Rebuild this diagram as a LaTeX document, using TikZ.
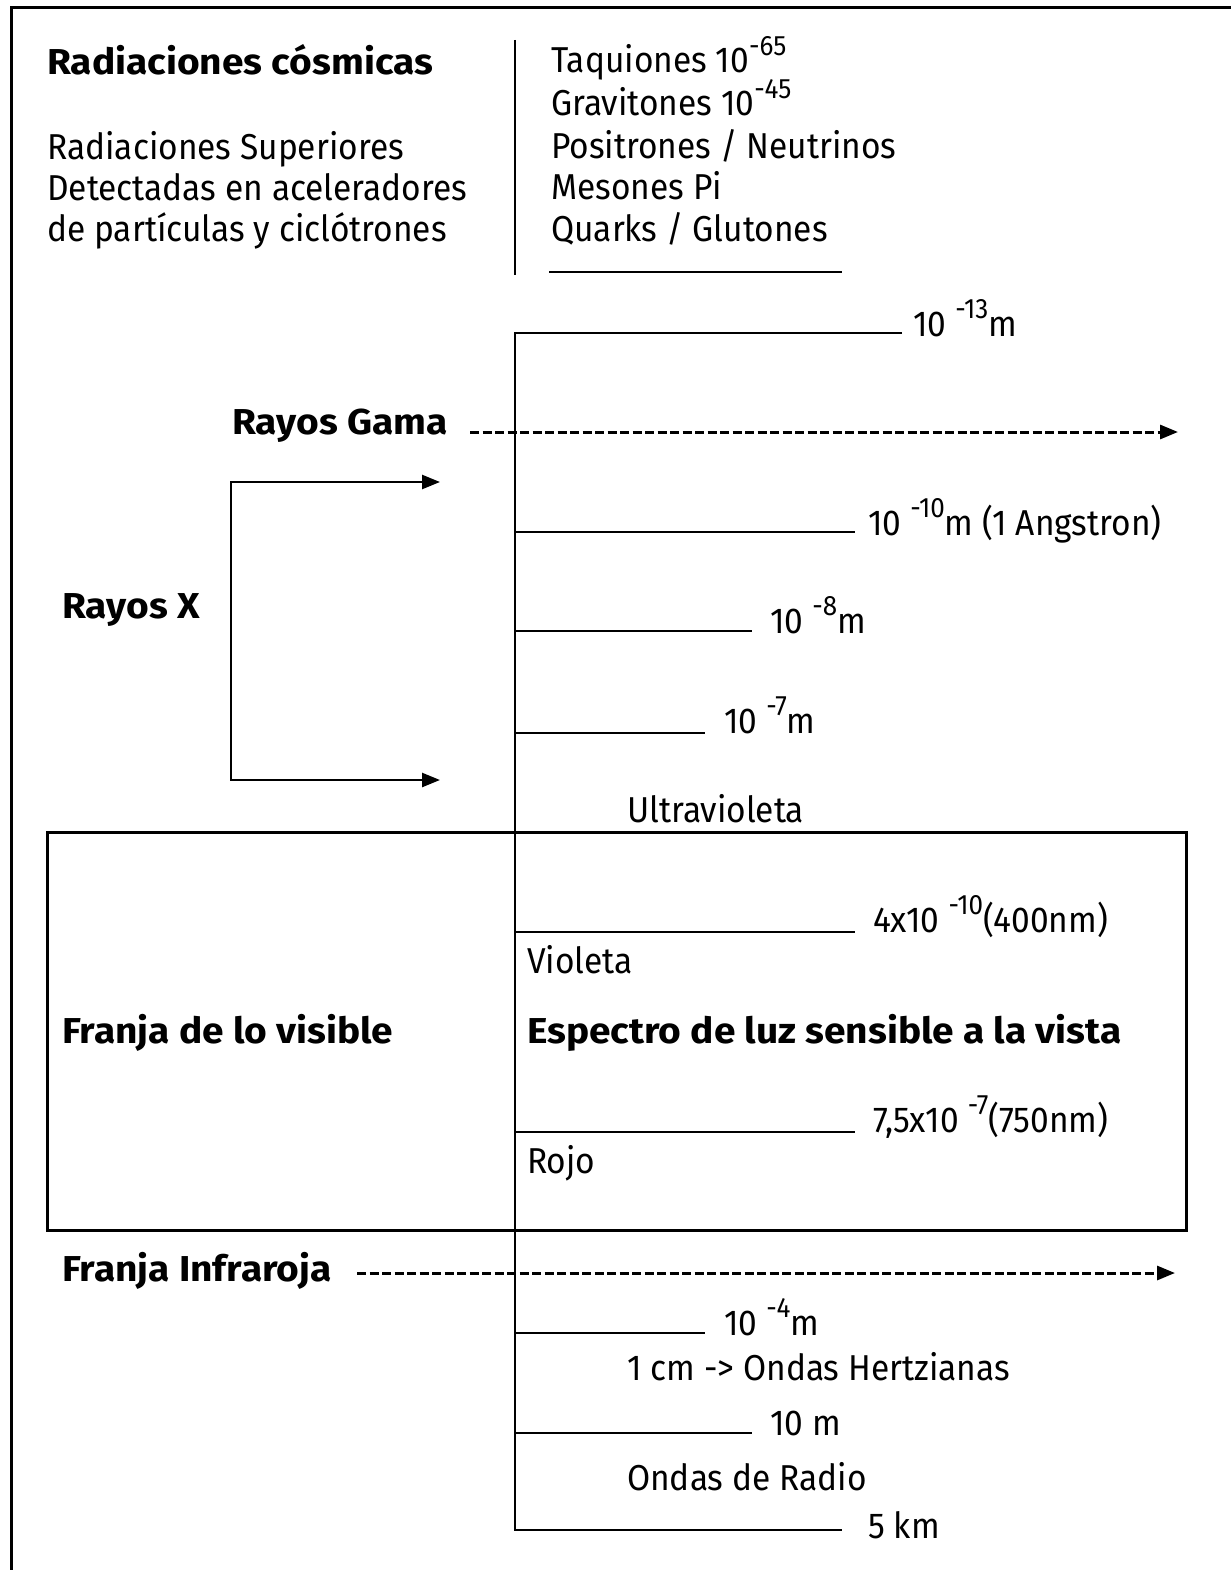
\documentclass[tikz,border=0pt]{standalone}
\usepackage{fontspec}
\setmainfont[FakeStretch=0.93]{Fira Sans}
\newfontfamily\boldfam[FakeStretch=1.08]{Fira Sans}
\usetikzlibrary{arrows.meta}
\newcommand\expo[1]{\raisebox{0.48em}{\fontsize{28}{28}\selectfont #1}}
\newcommand\gapx{\hspace{9pt}}
\begin{document}
\begin{tikzpicture}[x=1pt,y=-1pt,
  txt/.style={anchor=base west, inner sep=0pt, font=\fontsize{36}{42}\selectfont},
  btxt/.style={anchor=base west, inner sep=0pt, font=\fontsize{36}{42}\selectfont\boldfam\bfseries},
  rule/.style={line width=2.5pt},
  frame/.style={line width=3pt},
  dashline/.style={line width=3pt, dash pattern=on 9pt off 3.5pt, -{Triangle[length=18pt,width=14pt]}},
  arr/.style={line width=2.5pt, -{Triangle[length=18pt,width=14pt]}},
]
\useasboundingbox (0,0) rectangle (1231,1570);
% outer frame (open at right and bottom)
\coordinate (fbl) at (11,1570);
\coordinate (ftl) at (11,8);
\coordinate (ftr) at (1231,8);
\draw[frame] (fbl) -- (ftl) -- (ftr);

% top section
\node[btxt] (rc) at (47,75) {Radiaciones cósmicas};
\node[txt] (rs1) at (47,160) {Radiaciones Superiores};
\node[txt] (rs2) at (47,201) {Detectadas en aceleradores};
\node[txt] (rs3) at (47,242) {de partículas y ciclótrones};
\coordinate (sept) at (515,40);
\coordinate (sepb) at (515,275);
\draw[rule] (sept) -- (sepb);
\node[txt] (p1) at (551,73) {Taquiones 10\expo{-65}};
\node[txt] (p2) at (551,116) {Gravitones 10\expo{-45}};
\node[txt] (p3) at (551,159) {Positrones / Neutrinos};
\node[txt] (p4) at (551,200) {Mesones Pi};
\node[txt] (p5) at (551,241) {Quarks / Glutones};
\coordinate (ul1) at (549,272);
\coordinate (ul2) at (842,272);
\draw[rule] (ul1) -- (ul2);

% main axis and ticks
\foreach \n/\y/\xe in {a/333/902, b/532/855, c/631/752, d/733/705, e/932/855, f/1132/855, g/1333/705, h/1433/752, i/1530/842}{
  \coordinate (s\n) at (515,\y);
  \coordinate (e\n) at (\xe,\y);
}
\draw[rule] (ea) -- (sa) -- (si) -- (ei);
\foreach \n in {b,c,d,e,f,g,h}{\draw[rule] (s\n) -- (e\n);}

\node[txt] (la) at (913,336) {10\gapx\expo{-13}m};
\node[txt] (lb) at (868,535) {10\gapx\expo{-10}m (1 Angstron)};
\node[txt] (lc) at (770,633) {10\gapx\expo{-8}m};
\node[txt] (ld) at (724,733) {10\gapx\expo{-7}m};
\node[txt] (le) at (873,932) {4x10\gapx\expo{-10}(400nm)};
\node[txt] (lf) at (873,1132) {7,5x10\gapx\expo{-7}(750nm)};
\node[txt] (lg) at (724,1335) {10\gapx\expo{-4}m};
\node[txt] (lh) at (770,1435) {10 m};
\node[txt] (li) at (868,1538) {5 km};

% Rayos Gama
\node[btxt] (rg) at (232,434) {Rayos Gama};
\coordinate (rgs) at (470,432);
\coordinate (rge) at (1178,432);
\draw[dashline] (rgs) -- (rge);

% Rayos X bracket
\node[btxt] (rx) at (62,618) {Rayos X};
\coordinate (bxt) at (231,482);
\coordinate (bxb) at (231,780);
\coordinate (bxte) at (440,482);
\coordinate (bxbe) at (440,780);
\draw[arr] (bxb) -- (bxt) -- (bxte);
\draw[arr] (bxt) -- (bxb) -- (bxbe);

\node[txt] (uv) at (627,822) {Ultravioleta};

% visible box
\coordinate (vb1) at (47,832);
\coordinate (vb2) at (1186,1230);
\draw[frame] (vb1) rectangle (vb2);
\node[txt] (vio) at (527,973) {Violeta};
\node[btxt] (fv) at (62,1043) {Franja de lo visible};
\node[btxt] (esp) at (527,1043) {Espectro de luz sensible a la vista};
\node[txt] (rojo) at (527,1173) {Rojo};

% infrared
\node[btxt] (fi) at (62,1281) {Franja Infraroja};
\coordinate (fis) at (357,1273);
\coordinate (fie) at (1175,1273);
\draw[dashline] (fis) -- (fie);

\node[txt] (oh) at (627,1380) {1 cm -> Ondas Hertzianas};
\node[txt] (or) at (627,1490) {Ondas de Radio};
\end{tikzpicture}
\end{document}
